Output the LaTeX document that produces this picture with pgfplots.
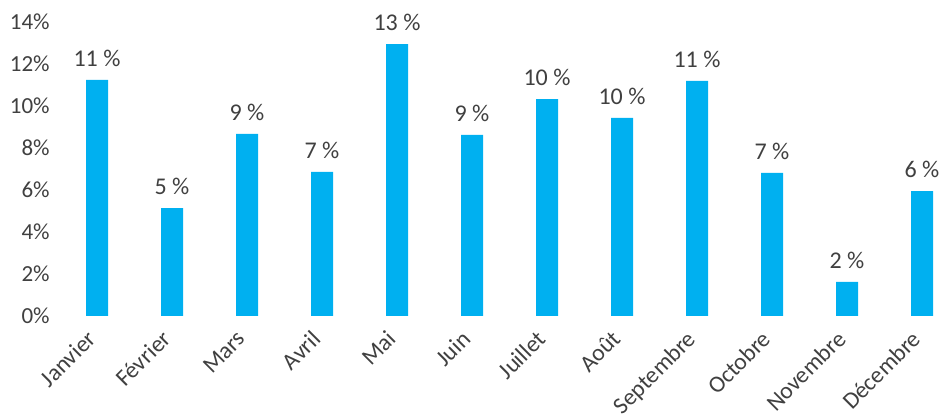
\documentclass[border=0pt]{standalone}
\usepackage{pgfplots}
\pgfplotsset{compat=1.18}
\usepackage{fontspec}
\setmainfont{Carlito}

\definecolor{barblue}{RGB}{0,176,240}
\definecolor{txtgray}{RGB}{64,64,64}

\begin{document}
\begin{tikzpicture}
\begin{axis}[
scale only axis,
width=441.75pt, height=147pt,
xmin=-0.5, xmax=11.28,
ymin=0, ymax=14,
axis line style={draw=none},
tick style={draw=none},
ytick={0,2,...,14},
yticklabels={0\%,2\%,4\%,6\%,8\%,10\%,12\%,14\%},
xtick={0,...,11},
xticklabels={Janvier,Février,Mars,Avril,Mai,Juin,Juillet,Août,Septembre,Octobre,Novembre,Décembre},
font=\fontsize{11.5}{13}\selectfont,
tick label style={text=txtgray},
yticklabel style={anchor=east, inner sep=0pt, xshift=-4.75pt},
xticklabel style={font=\fontsize{11.8}{14}\selectfont, rotate=45, anchor=north east, inner sep=0pt, xshift=-8.5pt, yshift=-0.5pt},
/pgf/number format/assume math mode=true,
clip=false,
]
\addplot [ybar, bar width=11pt, fill=barblue, draw=none,
  point meta=explicit symbolic,
  nodes near coords={\pgfplotspointmeta\ \%},
  nodes near coords style={font=\fontsize{12}{14}\selectfont, anchor=south, inner sep=0pt, yshift=6.5pt, text=txtgray}]
coordinates {
(0,11.24) [11]
(1,5.14) [5]
(2,8.67) [9]
(3,6.86) [7]
(4,12.95) [13]
(5,8.62) [9]
(6,10.33) [10]
(7,9.43) [10]
(8,11.19) [11]
(9,6.81) [7]
(10,1.62) [2]
(11,5.95) [6]
};
\coordinate (bl) at (rel axis cs:0,0);
\coordinate (tr) at (rel axis cs:1,1);
\end{axis}
\pgfresetboundingbox
\useasboundingbox ([xshift=-29.75pt, yshift=-49pt]bl) rectangle ([yshift=11pt]tr);
\end{tikzpicture}
\end{document}
